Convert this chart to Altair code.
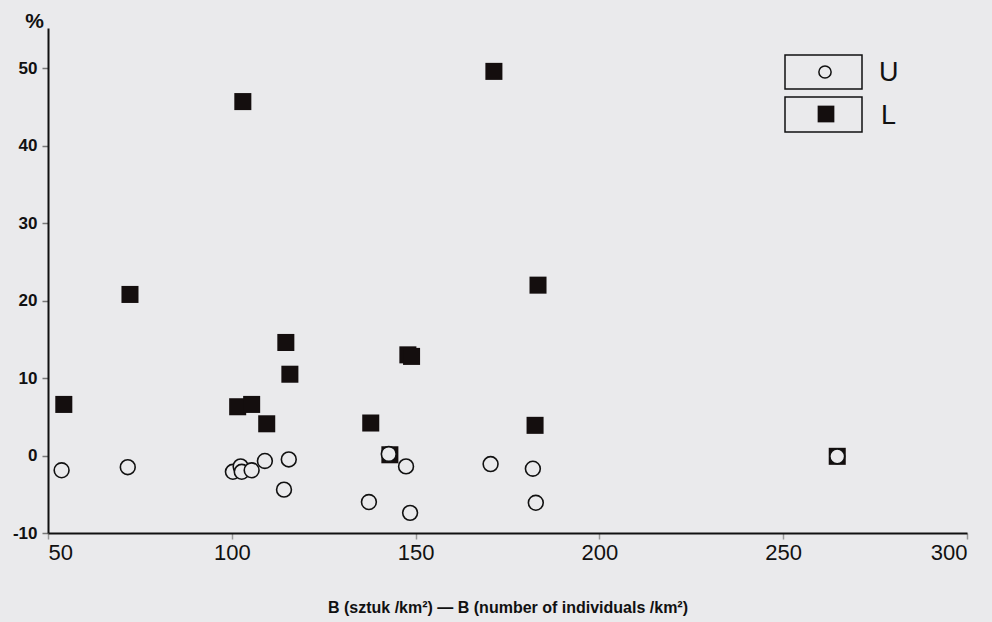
import altair as alt
import pandas as pd

# Series U (open circles)
u_x = [53.7, 71.7, 100.3, 102.4, 102.7, 105.4, 109.0, 115.5, 114.2, 142.7,
       147.4, 137.3, 148.5, 170.4, 181.9, 182.7, 264.7]
u_y = [-1.9, -1.5, -2.1, -1.4, -2.1, -1.9, -0.7, -0.5, -4.4, 0.2,
       -1.4, -6.0, -7.4, -1.1, -1.7, -6.1, -0.1]

# Series L (filled squares)
l_x = [54.3, 72.3, 103.0, 171.3, 183.3, 114.7, 115.8, 101.6, 105.4, 109.5,
       137.8, 147.9, 148.9, 182.5, 143.0, 264.7]
l_y = [6.6, 20.8, 45.7, 49.6, 22.0, 14.6, 10.5, 6.3, 6.6, 4.1,
       4.2, 13.0, 12.8, 3.9, 0.1, -0.1]

series_names = ["U", "L"]
x_ticks = [50, 100, 150, 200, 250, 300]
y_ticks = [-10, 0, 10, 20, 30, 40, 50]
x_title = "B (sztuk /km²) — B (number of individuals /km²)"

BG = "#eaeaec"
FONT = "Liberation Sans"

df_u = pd.DataFrame({"x": u_x, "y": u_y, "s": series_names[0]})
df_l = pd.DataFrame({"x": l_x, "y": l_y, "s": series_names[1]})

xscale = alt.Scale(domain=[50, 300], nice=False, zero=False)
yscale = alt.Scale(domain=[-10, 55.2], nice=False, zero=False)

xaxis = alt.Axis(values=x_ticks, title=x_title, grid=False,
                 domainColor="#111", domainWidth=2, tickColor="#999",
                 tickSize=6, tickWidth=1.5, labelFont=FONT, labelFontSize=22,
                 labelColor="#111", labelPadding=3, titleFont=FONT,
                 titleFontSize=16, titleFontWeight="bold", titleColor="#111",
                 titleBaseline="alphabetic", titleY=79)
yaxis = alt.Axis(values=y_ticks, title="%", grid=False,
                 labelExpr="datum.value < 0 ? '-' + abs(datum.value) : '' + datum.value",
                 domainColor="#111", domainWidth=2, tickColor="#777",
                 tickSize=6, tickWidth=1.5, labelFont=FONT, labelFontSize=17,
                 labelFontWeight="bold", labelColor="#111", labelPadding=5,
                 titleFont=FONT, titleFontSize=21, titleFontWeight="bold",
                 titleColor="#111", titleAngle=0, titleAlign="center",
                 titleBaseline="alphabetic", titleX=-14, titleY=-1)

squares = alt.Chart(df_l).mark_point(
    shape="square", filled=True, color="#140e0e", size=290, opacity=1
).encode(
    x=alt.X("x:Q", scale=xscale, axis=xaxis),
    y=alt.Y("y:Q", scale=yscale, axis=yaxis),
)

circles = alt.Chart(df_u).mark_point(
    shape="circle", filled=False, fill=BG, fillOpacity=1, stroke="#111",
    strokeWidth=1.6, size=220, opacity=1
).encode(
    x=alt.X("x:Q", scale=xscale),
    y=alt.Y("y:Q", scale=yscale),
)

# Custom boxed legend
one = pd.DataFrame({"s": [0]})
box_u = alt.Chart(one).mark_rect(fill="none", stroke="#111", strokeWidth=1.5).encode(
    x=alt.value(737), x2=alt.value(814), y=alt.value(27), y2=alt.value(61))
box_l = alt.Chart(one).mark_rect(fill="none", stroke="#111", strokeWidth=1.5).encode(
    x=alt.value(737), x2=alt.value(814), y=alt.value(69), y2=alt.value(104))
sym_u = alt.Chart(one).mark_point(shape="circle", filled=False, stroke="#111",
                                  strokeWidth=1.5, size=150, opacity=1).encode(
    x=alt.value(777), y=alt.value(44))
sym_l = alt.Chart(one).mark_point(shape="square", filled=True, color="#140e0e",
                                  size=280, opacity=1).encode(
    x=alt.value(778), y=alt.value(86))
lab_u = alt.Chart(pd.DataFrame({"t": [series_names[0]]})).mark_text(
    font=FONT, fontSize=27, align="left", baseline="middle", color="#111"
).encode(x=alt.value(831), y=alt.value(45), text="t:N")
lab_l = alt.Chart(pd.DataFrame({"t": [series_names[1]]})).mark_text(
    font=FONT, fontSize=27, align="left", baseline="middle", color="#111"
).encode(x=alt.value(833), y=alt.value(88), text="t:N")

chart = alt.layer(
    squares, circles, box_u, box_l, sym_u, sym_l, lab_u, lab_l
).properties(
    width=919, height=505,
    autosize=alt.AutoSizeParams(type="none"),
    padding={"left": 48, "top": 28, "right": 25, "bottom": 89},
    background=BG,
).configure_view(stroke=None, fill=BG)

chart.save("out.html", embed_options={"renderer": "svg", "actions": False})
